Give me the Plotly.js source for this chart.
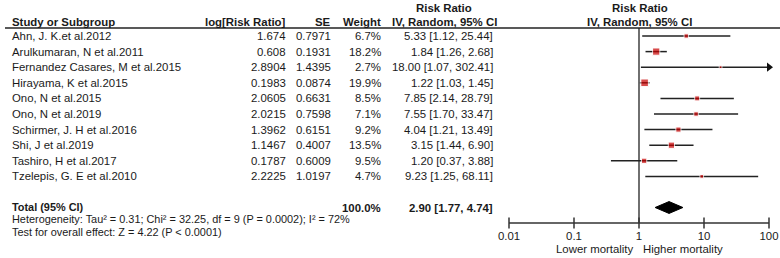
<!DOCTYPE html>
<html><head><meta charset="utf-8">
<script src="https://cdn.plot.ly/plotly-3.0.1.min.js"></script>
<style>html,body{margin:0;padding:0;background:#fff}#chart{width:780px;height:258px}</style>
</head><body><div id="chart"></div>
<script>
// ---- data ----
const studies = ["Ahn, J. K.et al.2012","Arulkumaran, N et al.2011","Fernandez Casares, M et al.2015","Hirayama, K et al.2015","Ono, N et al.2015","Ono, N et al.2019","Schirmer, J. H et al.2016","Shi, J et al.2019","Tashiro, H et al.2017","Tzelepis, G. E et al.2010"];
const logRR = [1.674, 0.608, 2.8904, 0.1983, 2.0605, 2.0215, 1.3962, 1.1467, 0.1787, 2.2225];
const se = [0.7971, 0.1931, 1.4395, 0.0874, 0.6631, 0.7598, 0.6151, 0.4007, 0.6009, 1.0197];
const weight = [6.7, 18.2, 2.7, 19.9, 8.5, 7.1, 9.2, 13.5, 9.5, 4.7];
const rr = [5.33, 1.84, 18.00, 1.22, 7.85, 7.55, 4.04, 3.15, 1.20, 9.23];
const ciLow = [1.12, 1.26, 1.07, 1.03, 2.14, 1.70, 1.21, 1.44, 0.37, 1.25];
const ciHigh = [25.44, 2.68, 302.41, 1.45, 28.79, 33.47, 13.49, 6.90, 3.88, 68.11];
const totalLabel = "Total (95% CI)";
const totalWeight = 100.0;
const totalRR = [2.90];
const totalLow = [1.77];
const totalHigh = [4.74];
const heterogeneity = "Heterogeneity: Tau² = 0.31; Chi² = 32.25, df = 9 (P = 0.0002); I² = 72%";
const overallEffect = "Test for overall effect: Z = 4.22 (P &lt; 0.0001)";
const headers = ["Study or Subgroup","log[Risk Ratio]","SE","Weight","Risk Ratio","IV, Random, 95% CI"];
const tickVals = [0.01, 0.1, 1, 10, 100];
const tickText = ["0.01", "0.1", "1", "10", "100"];
const favourLabels = ["Lower mortality", "Higher mortality"];

// ---- layout helpers ----
const W = 780, H = 258;
const rowTop = 36, rowStep = 15.6;              // pixel of first row and spacing
const toRow = p => (p - rowTop) / rowStep;       // pixel -> row units
const FONT = "Liberation Sans, Arial, sans-serif";
const FS = 11.4;
const FSF = 10.9;
const TXT = "#1a1a1a";
const rows = studies.map((_, i) => i);
const totalRow = toRow(207.5);
const axisRow = toRow(223);
const headLineRow = toRow(28);
const xMax = tickVals[tickVals.length - 1];
const fmt = (v, lo, hi) => v.toFixed(2) + " [" + lo.toFixed(2) + ", " + hi.toFixed(2) + "]";

const colStudy = 11 / W, colLog = 287 / W, colSE = 332 / W, colW = 382 / W, colCI = 494 / W, colCIc = 444 / W;

// ---- traces ----
const lx = [], ly = [];
rows.forEach(i => { lx.push(ciLow[i], Math.min(ciHigh[i], xMax), null); ly.push(i, i, null); });
const clipped = rows.filter(i => ciHigh[i] > xMax);

const traces = [
  { x: [1, 1], y: [headLineRow, axisRow], mode: "lines", line: { color: "#222", width: 1.3 }, hoverinfo: "skip", cliponaxis: false },
  { x: lx, y: ly, mode: "lines", line: { color: "#222", width: 1.5 }, hoverinfo: "skip", cliponaxis: false },
  { x: clipped.map(() => xMax), y: clipped, mode: "markers", marker: { symbol: "triangle-right", size: 8, color: "#111" }, hoverinfo: "skip", cliponaxis: false },
  { x: rr, y: rows, mode: "markers", marker: { symbol: "square", color: "#c80000", size: weight.map(w => Math.max(2.5, 1.7 * Math.sqrt(w))) }, hoverinfo: "skip", cliponaxis: false },
  { x: [totalLow[0], totalRR[0], totalHigh[0], totalRR[0], totalLow[0]],
    y: [totalRow, totalRow - 0.38, totalRow, totalRow + 0.38, totalRow],
    mode: "lines", fill: "toself", fillcolor: "#000", line: { color: "#000", width: 1 }, hoverinfo: "skip", cliponaxis: false },
  { x: tickVals, y: tickVals.map(() => axisRow), mode: "lines+markers", line: { color: "#333", width: 1.5 },
    marker: { symbol: "line-ns", size: 8, line: { color: "#333", width: 1.5 } }, hoverinfo: "skip", cliponaxis: false }
];

// ---- annotations ----
const ann = [];
const A = (text, x, y, anchor, bold, size) => ann.push({
  text: bold ? "<b>" + text + "</b>" : text, x: x, y: y, xref: "paper", yref: "y",
  xanchor: anchor, yanchor: "middle", showarrow: false, borderpad: 0,
  font: { family: FONT, size: size || FS, color: TXT }
});

const hRow2 = toRow(22), hRow1 = toRow(8);
A(headers[0], colStudy, hRow2, "left", true);
A(headers[1], colLog, hRow2, "right", true);
A(headers[2], colSE, hRow2, "right", true);
A(headers[3], colW, hRow2, "right", true);
A(headers[4], colCIc, hRow1, "center", true);
A(headers[5], colCIc, hRow2, "center", true);
A(headers[4], 639.5 / W, hRow1, "center", true);
A(headers[5], 639.5 / W, hRow2, "center", true);

rows.forEach(i => {
  A(studies[i], colStudy, i, "left");
  A(String(logRR[i]), colLog, i, "right");
  A(String(se[i]), colSE, i, "right");
  A(weight[i].toFixed(1) + "%", colW, i, "right");
  A(fmt(rr[i], ciLow[i], ciHigh[i]), colCI, i, "right");
});
A(totalLabel, colStudy, toRow(206.5), "left", true, FSF);
A(totalWeight.toFixed(1) + "%", colW, totalRow, "right", true);
A(fmt(totalRR[0], totalLow[0], totalHigh[0]), colCI, totalRow, "right", true);
A(heterogeneity, colStudy, toRow(219), "left", false, FSF);
A(overallEffect, colStudy, toRow(231.5), "left", false, FSF);

ann.push({ text: favourLabels[0], x: Math.log10(1), y: toRow(249), xref: "x", yref: "y", xanchor: "right", yanchor: "middle",
  xshift: -4, showarrow: false, borderpad: 0, font: { family: FONT, size: FS, color: TXT } });
ann.push({ text: favourLabels[1], x: Math.log10(1), y: toRow(249), xref: "x", yref: "y", xanchor: "left", yanchor: "middle",
  xshift: 3, showarrow: false, borderpad: 0, font: { family: FONT, size: FS, color: TXT } });

const layout = {
  width: W, height: H, margin: { l: 0, r: 0, t: 0, b: 0, pad: 0 },
  paper_bgcolor: "#fff", plot_bgcolor: "#fff", showlegend: false,
  xaxis: { type: "log", range: [Math.log10(tickVals[0]), Math.log10(xMax)], domain: [509 / W, 769 / W],
    anchor: "free", position: 1 - 223 / H, showgrid: false, zeroline: false, showline: false,
    tickmode: "array", tickvals: tickVals, ticktext: tickText, ticks: "outside", ticklen: 2, tickcolor: "rgba(0,0,0,0)",
    tickfont: { family: FONT, size: FS, color: TXT }, fixedrange: true },
  yaxis: { range: [toRow(H), toRow(0)], domain: [0, 1], visible: false, fixedrange: true },
  shapes: [{ type: "line", xref: "paper", yref: "y", x0: 5 / W, x1: 1, y0: headLineRow, y1: headLineRow, line: { color: "#222", width: 1.5 } }],
  annotations: ann
};

Plotly.newPlot("chart", traces, layout, { staticPlot: true, displayModeBar: false });
</script>
</body></html>
